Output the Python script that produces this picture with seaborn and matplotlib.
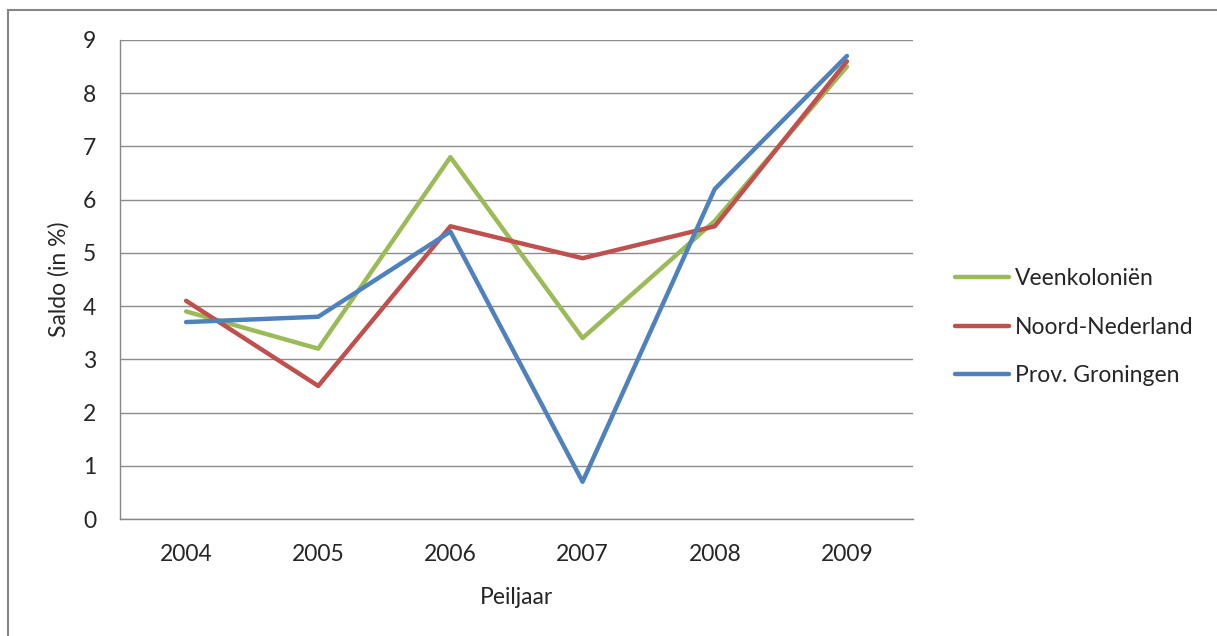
import matplotlib
matplotlib.use("Agg")
import matplotlib.pyplot as plt
import seaborn as sns
import pandas as pd
from matplotlib.patches import Rectangle
from matplotlib.ticker import FixedLocator

# data
jaren = ['2004', '2005', '2006', '2007', '2008', '2009']
veenkolonien = [3.9, 3.2, 6.8, 3.4, 5.6, 8.5]
noord_nederland = [4.1, 2.5, 5.5, 4.9, 5.5, 8.6]
prov_groningen = [3.7, 3.8, 5.4, 0.7, 6.2, 8.7]

reeksen = ['Veenkoloniën', 'Noord-Nederland', 'Prov. Groningen']
kleuren = ['#9BBB59', '#C0504D', '#4F81BD']

rijen = []
for naam, waarden in zip(reeksen, [veenkolonien, noord_nederland, prov_groningen]):
    for i, (j, v) in enumerate(zip(jaren, waarden)):
        rijen.append({'pos': i, 'Peiljaar': j, 'Saldo': v, 'reeks': naam})
df = pd.DataFrame(rijen)

sns.set_style('white')
plt.rcParams['font.family'] = ['Lato', 'DejaVu Sans']
fs = 16.5

fig = plt.figure(figsize=(12.17, 6.36), dpi=100)
ax = fig.add_axes([120 / 1217, 1 - 519 / 636, (913 - 120) / 1217, (519 - 40) / 636])

sns.lineplot(data=df, x='pos', y='Saldo', hue='reeks', palette=kleuren,
             hue_order=reeksen, linewidth=3.2, ax=ax, legend=True)

ax.set_xlim(-0.5, 5.5)
ax.set_ylim(0, 9)
ax.set_yticks(range(0, 10))
ax.set_xticks(range(len(jaren)))
ax.set_xticklabels(jaren)
ax.xaxis.set_minor_locator(FixedLocator([i - 0.5 for i in range(len(jaren) + 1)]))
ax.tick_params(axis='x', which='major', length=0, labelsize=fs, pad=18)
ax.tick_params(axis='x', which='minor', length=6, color='#878787', width=1, direction='out')
ax.tick_params(axis='y', length=6, color='#878787', width=1, labelsize=fs, pad=11, direction='out')
ax.grid(axis='y', color='#8c8c8c', linewidth=1)
ax.set_axisbelow(True)
for s in ['top', 'right']:
    ax.spines[s].set_visible(False)
for s in ['left', 'bottom']:
    ax.spines[s].set_color('#878787')
    ax.spines[s].set_linewidth(1)

ax.set_xlabel('Peiljaar', fontsize=fs, labelpad=16)
ax.set_ylabel('Saldo (in %)', fontsize=fs, labelpad=10)

leg = ax.legend(loc='center left', bbox_to_anchor=(1.027, 0.4), frameon=False,
                fontsize=fs, handlelength=2.35, handletextpad=0.25, labelspacing=1.2)
for ln in leg.get_lines():
    ln.set_linewidth(3.2)

# outer chart border
fig.patches.append(Rectangle((8 / 1217, -0.1), 1.2, 1 - 10 / 636 + 0.1,
                             transform=fig.transFigure, fill=False,
                             edgecolor='#868686', linewidth=1.5))

fig.savefig('out.png', dpi=100)
